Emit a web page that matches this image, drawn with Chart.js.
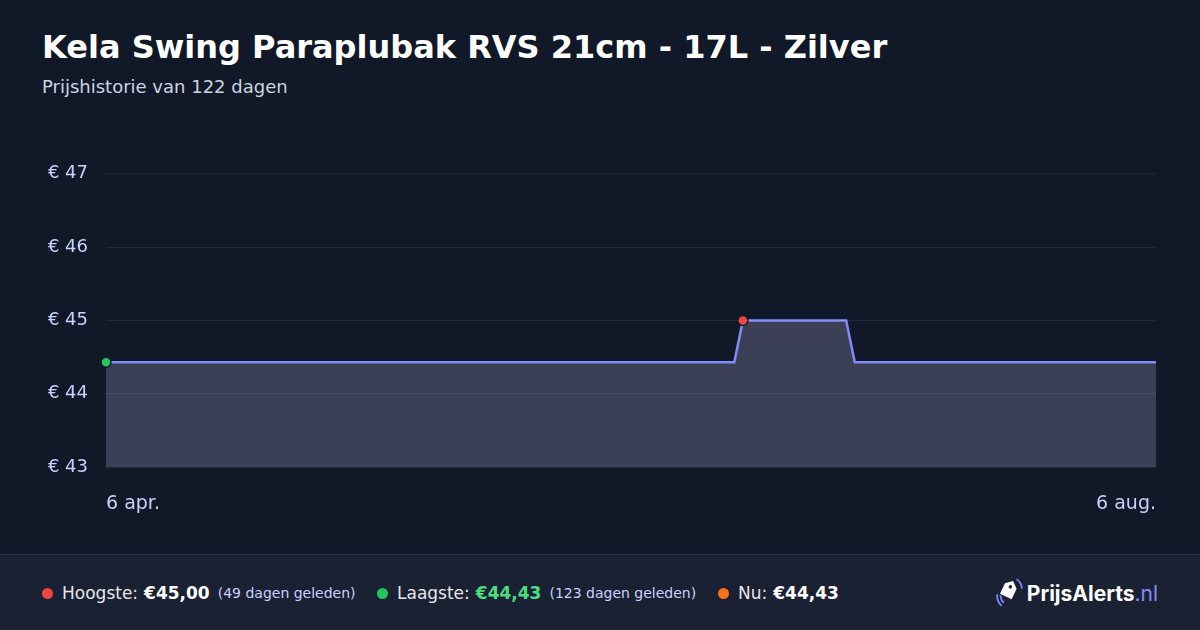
<!DOCTYPE html>
<html>
<head>
<meta charset="utf-8">
<script src="https://cdn.jsdelivr.net/npm/chart.js@4"></script>
<style>
  html,body{margin:0;padding:0;}
  body{width:1200px;height:630px;background:#111827;position:relative;overflow:hidden;font-family:"DejaVu Sans",sans-serif;}
  #title{position:absolute;left:42px;top:28px;font-size:32px;font-weight:bold;color:#ffffff;white-space:nowrap;}
  #sub{position:absolute;left:42px;top:76px;font-size:18px;color:#cbd5e1;white-space:nowrap;}
  #wrap{position:absolute;left:0;top:145px;width:1200px;height:405px;}
  #footer{position:absolute;left:0;top:554px;width:1200px;height:76px;background:#1a2132;border-top:1px solid #263150;}
  .stat{position:absolute;top:0;height:76px;display:flex;align-items:center;font-size:17px;color:#e5e7eb;white-space:nowrap;}
  .dot{width:11px;height:11px;border-radius:50%;display:inline-block;margin-right:9px;}
  .val{font-weight:bold;color:#fff;margin-left:6px;}
  .ago{font-size:14px;color:#c7d2fe;margin-left:8px;}
  #logo{position:absolute;right:42px;top:0;height:76px;display:flex;align-items:center;font-family:Inter,"DejaVu Sans",sans-serif;font-size:21px;font-weight:bold;color:#fff;}
  #logo .nl{font-weight:normal;color:#818cf8;}
</style>
</head>
<body>
<div id="title">Kela Swing Paraplubak RVS 21cm - 17L - Zilver</div>
<div id="sub">Prijshistorie van 122 dagen</div>
<div id="wrap"><canvas id="c"></canvas></div>
<div id="footer">
  <div class="stat" style="left:42px"><span class="dot" style="background:#ef4444"></span>Hoogste:<span class="val">€45,00</span><span class="ago">(49 dagen geleden)</span></div>
  <div class="stat" style="left:377px"><span class="dot" style="background:#22c55e"></span>Laagste:<span class="val" style="color:#4ade80">€44,43</span><span class="ago">(123 dagen geleden)</span></div>
  <div class="stat" style="left:718px"><span class="dot" style="background:#f97316"></span>Nu:<span class="val">€44,43</span></div>
  <div id="logo">
    <svg width="32" height="32" viewBox="0 0 30 30" style="margin-right:2px">
      <path d="M9 8 L15 3 L21 8 L21 19 L9 19 Z" fill="#fff" transform="rotate(25 15 12)"/>
      <circle cx="15" cy="9" r="1.6" fill="#1a2132" transform="rotate(25 15 12)"/>
      <path d="M4 16 Q3 22 8 27" stroke="#818cf8" stroke-width="1.6" fill="none"/>
      <path d="M7 17 Q7 21 10 24" stroke="#818cf8" stroke-width="1.6" fill="none"/>
      <path d="M22 2 Q27 5 27 11" stroke="#818cf8" stroke-width="1.6" fill="none"/>
    </svg>
    <span>PrijsAlerts</span><span class="nl">.nl</span>
  </div>
</div>
<script>
const days   = [0, 73, 74, 86, 87, 122];
const prices = [44.43, 44.43, 45.00, 45.00, 44.43, 44.43];
const tickDays   = [0, 122];
const tickLabels = ['6 apr.', '6 aug.'];
const yTicks = [43, 44, 45, 46, 47];

const points = days.map((d, i) => ({x: d, y: prices[i]}));
const radii = points.map((p, i) => (i === 0 || i === 2) ? 5 : 0);
const pColors = points.map((p, i) => i === 0 ? '#22c55e' : (i === 2 ? '#ef4444' : '#818cf8'));

new Chart(document.getElementById('c'), {
  type: 'line',
  data: {
    datasets: [{
      data: points,
      clip: false,
      borderColor: '#818cf8',
      borderWidth: 2.5,
      backgroundColor: 'rgba(160,160,200,0.3)',
      fill: 'start',
      tension: 0,
      pointRadius: radii,
      pointHoverRadius: radii,
      pointBackgroundColor: pColors,
      pointBorderColor: '#111827',
      pointBorderWidth: 1.5
    }]
  },
  options: {
    responsive: true,
    maintainAspectRatio: false,
    animation: false,
    layout: {padding: {top: 18, right: 44, left: 0, bottom: 0}},
    plugins: {legend: {display: false}, tooltip: {enabled: false}},
    scales: {
      x: {
        type: 'linear',
        min: tickDays[0],
        max: tickDays[tickDays.length - 1],
        afterBuildTicks: s => { s.ticks = tickDays.map(v => ({value: v})); },
        afterFit: s => { s.height = 83; },
        grid: {display: false, drawTicks: false},
        border: {display: false},
        ticks: {
          autoSkip: false,
          maxRotation: 0,
          align: 'inner',
          padding: 26,
          color: '#c7d2fe',
          font: {family: 'DejaVu Sans', size: 19},
          callback: (v) => tickLabels[tickDays.indexOf(v)]
        }
      },
      y: {
        min: yTicks[0],
        max: yTicks[yTicks.length - 1],
        afterBuildTicks: s => { s.ticks = yTicks.map(v => ({value: v})); },
        afterFit: s => { s.width = 106; },
        grid: {color: 'rgba(255,255,255,0.08)', drawTicks: false, lineWidth: 1, z: 1},
        border: {display: false},
        ticks: {
          padding: 18,
          color: '#c7d2fe',
          font: {family: 'DejaVu Sans', size: 18},
          callback: v => '€ ' + v
        }
      }
    }
  }
});
</script>
</body>
</html>
